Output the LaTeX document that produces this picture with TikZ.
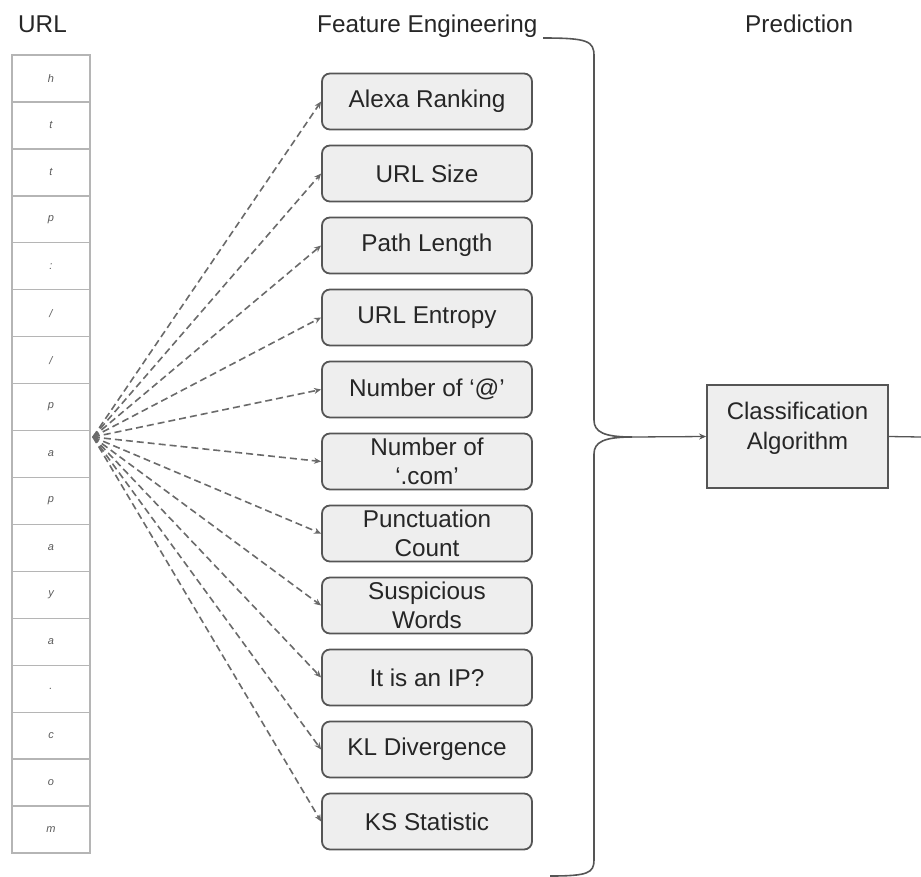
\documentclass[tikz,border=0pt]{standalone}
\usepackage{fontspec}
\setmainfont{Liberation Sans}
\usetikzlibrary{arrows.meta}
\definecolor{txt}{HTML}{262626}
\definecolor{boxfill}{HTML}{EEEEEE}
\definecolor{boxline}{HTML}{555555}
\definecolor{cellline}{HTML}{B5B5B5}
\definecolor{celltxt}{HTML}{5A5A5A}
\definecolor{dashline}{HTML}{6A6A6A}
\begin{document}
\begin{tikzpicture}[x=1pt,y=-1pt,
  title/.style={anchor=base west, inner sep=0pt, text=txt, font=\fontsize{24.3}{28}\selectfont},
  cell/.style={draw=cellline, line width=1.4pt, minimum width=78pt, minimum height=46.94pt, inner sep=0pt, text=celltxt, font=\fontsize{11}{13}\selectfont\itshape},
  featbox/.style={draw=boxline, fill=boxfill, line width=1.8pt, rounded corners=8pt, minimum width=210pt, minimum height=56pt, inner sep=0pt, align=center, text=txt, font=\fontsize{24.3}{28.5}\selectfont},
  clsbox/.style={draw=boxline, fill=boxfill, line width=1.8pt, minimum width=181pt, minimum height=103pt, inner sep=0pt},
  clstxt/.style={align=center, inner sep=0pt, text=txt, font=\fontsize{24}{30}\selectfont},
  dasharrow/.style={draw=dashline, line width=1.6pt, dash pattern=on 7pt off 4pt, -{Stealth[length=7pt,width=6pt]}},
  brace/.style={draw=boxline, line width=1.6pt},
  solidarrow/.style={draw=boxline, line width=1.3pt, -{Stealth[length=7pt,width=6pt]}},
  plainline/.style={draw=boxline, line width=1.3pt}
]
\useasboundingbox (0,0) rectangle (921,876);

% titles
\node[title] (tURL) at (18,32) {URL};
\node[title] (tFE) at (317,32) {Feature Engineering};
\node[title] (tPred) at (745,32) {Prediction};

% URL cells
\foreach \c [count=\i from 0] in {h,t,t,p,:,/,/,p,a,p,a,y,a,.,c,o,m}{
  \node[cell] (u\i) at ({51},{78.5+46.94*\i}) {\c};
}

% feature boxes
\foreach \t [count=\k from 0] in {Alexa Ranking,URL Size,Path Length,URL Entropy,Number of ‘@’,{Number of\\‘.com’},{Punctuation\\Count},{Suspicious\\Words},It is an IP?,KL Divergence,KS Statistic}{
  \node[featbox] (f\k) at ({427},{101.5+72*\k}) {\t};
}

% fan origin
\coordinate (fan) at (93,437);
\foreach \k in {0,...,10}{
  \draw[dasharrow] (fan) -- (f\k.west);
}

% brace
\coordinate (brtip) at (632,437);
\draw[brace] (543,38) .. controls (588,38) and (594,41) .. (594,56)
  -- (594,420) .. controls (594,432) and (604,437) .. (brtip)
  .. controls (604,437) and (594,442) .. (594,454)
  -- (594,860) .. controls (594,873) and (588,876) .. (550,876);

% classification
\node[clsbox] (cls) at (797.5,436.5) {};
\node[clstxt] (clst) at (797.5,428) {Classification\\Algorithm};
\draw[solidarrow] (brtip) -- (cls.west);
\coordinate (outend) at (921,437);
\draw[plainline] (cls.east) -- (outend);
\end{tikzpicture}
\end{document}
